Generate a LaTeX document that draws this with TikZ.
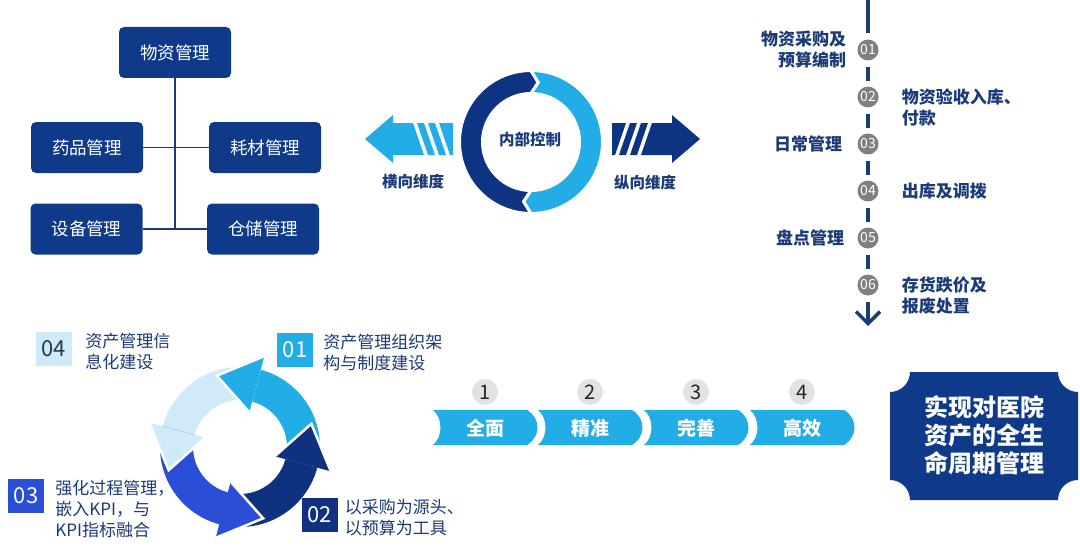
\documentclass[tikz,border=0pt]{standalone}
\usepackage{fontspec}
\setmainfont{Noto Sans CJK SC}
\usetikzlibrary{positioning,arrows.meta}

\definecolor{navy}{HTML}{0F3A8A}
\definecolor{ringdark}{HTML}{0D3483}
\definecolor{sky}{HTML}{22ADE6}
\definecolor{txtblue}{HTML}{1B3A78}
\definecolor{pale}{HTML}{CFEAF8}
\definecolor{royal}{HTML}{2A4ED6}
\definecolor{deepnavy}{HTML}{10317F}
\definecolor{tlgrey}{HTML}{808080}
\definecolor{numgrey}{HTML}{E2E2E2}
\definecolor{numdark}{HTML}{2D3A45}

\tikzset{
  orgbox/.style={fill=navy, rounded corners=5pt, text=white, minimum width=112pt,
    minimum height=51pt, inner sep=0pt, font=\fontsize{17.5}{21}\selectfont},
  orgline/.style={draw=txtblue, line width=1.5pt},
  tlcirc/.style={circle, fill=tlgrey, text=white, minimum size=21pt, inner sep=0pt,
    font=\fontsize{14}{14}\selectfont},
  tlline/.style={draw=txtblue, line width=3.5pt},
  tlleft/.style={align=right, inner sep=0pt, text=txtblue, font=\fontsize{17}{21}\selectfont\bfseries},
  tlright/.style={align=left, inner sep=0pt, text=txtblue, font=\fontsize{17}{21}\selectfont\bfseries},
  numbox/.style={minimum width=36pt, minimum height=34pt, inner sep=0pt, text=white,
    font=\fontsize{22}{22}\selectfont},
  cyclabel/.style={align=left, inner sep=0pt, text=txtblue, font=\fontsize{17}{21}\selectfont},
  numcirc/.style={circle, fill=numgrey, minimum size=26pt, inner sep=0pt, text=black!85,
    font=\fontsize{20}{20}\selectfont},
  bandtext/.style={text=white, inner sep=0pt, font=\fontsize{19}{19}\selectfont\bfseries},
  dimtext/.style={text=txtblue, inner sep=0pt, font=\fontsize{15.5}{18}\selectfont\bfseries}
}

\begin{document}
\begin{tikzpicture}[x=1pt,y=-1pt]
\useasboundingbox (0,0) rectangle (1080,551);

% org chart
\node[orgbox] (wz) at (175,52.5) {物资管理};
\node[orgbox] (yp) at (87,147.5) {药品管理};
\node[orgbox] (hc) at (265,147.5) {耗材管理};
\node[orgbox] (sb) at (86.5,229) {设备管理};
\node[orgbox] (cc) at (263,229) {仓储管理};
\draw[orgline] (wz.south) -- (wz.south |- sb.east);
\draw[orgline] (yp.east) -- (hc.west);
\draw[orgline] (sb.east) -- (cc.west);

% internal control ring
\begin{scope}[shift={(531,142)}, yscale=-1]
\fill[ringdark, draw=white, line width=3pt] (270:71.5) arc[start angle=270, end angle=90, radius=71.5]
  -- (83:60) -- (90:48.5) arc[start angle=90, end angle=270, radius=48.5] -- (263:60) -- cycle;
\fill[sky, draw=white, line width=3pt] (90:71.5) arc[start angle=90, end angle=-90, radius=71.5]
  -- (-97:60) -- (-90:48.5) arc[start angle=-90, end angle=90, radius=48.5] -- (83:60) -- cycle;
\end{scope}
\node[dimtext] (nbkz) at (530,140) {内部控制};

% horizontal dimension arrow
\fill[sky] (365,139) -- (393,115) -- (393,123) -- (413,123) -- (424,155) -- (393,155) -- (393,163) -- cycle;
\foreach \s in {417,428}
  \fill[sky] (\s,123) -- ++(7,0) -- ++(11,32) -- ++(-7,0) -- cycle;
\fill[sky] (439,123) -- (453,123) -- (453,155) -- (450,155) -- cycle;
\node[dimtext] (hxwd) at (413,182) {横向维度};

% vertical dimension arrow
\begin{scope}[shift={(1065,0)}, xscale=-1]
\fill[ringdark] (365,139) -- (393,115) -- (393,123) -- (413,123) -- (424,155) -- (393,155) -- (393,163) -- cycle;
\foreach \s in {417,428}
  \fill[ringdark] (\s,123) -- ++(7,0) -- ++(11,32) -- ++(-7,0) -- cycle;
\fill[ringdark] (439,123) -- (453,123) -- (453,155) -- (450,155) -- cycle;
\end{scope}
\node[dimtext] (zxwd) at (645,183) {纵向维度};

% timeline
\foreach \i in {1,...,6}
  \node[tlcirc] (t\i) at (868,{50+47*(\i-1)}) {0\i};
\coordinate (tltop) at (868,0);
\coordinate (tlend) at (868,326);
\draw[tlline, shorten >=6pt] (tltop) -- (t1);
\foreach \i/\j in {1/2,2/3,3/4,4/5,5/6}
  \draw[tlline, shorten <=6pt, shorten >=5pt] (t\i) -- (t\j);
\draw[tlline, shorten <=6pt, -{Straight Barb[length=12pt,width=24pt]}] (t6) -- (tlend);

\node[tlleft, left=11pt of t1] (l1) {物资采购及\\预算编制};
\node[tlright, right=23pt of t2, yshift=-10.5pt] (l2) {物资验收入库、\\付款};
\node[tlleft, left=15pt of t3] (l3) {日常管理};
\node[tlright, right=23pt of t4] (l4) {出库及调拨};
\node[tlleft, left=13pt of t5] (l5) {盘点管理};
\node[tlright, right=23pt of t6, yshift=-10.5pt] (l6) {存货跌价及\\报废处置};

% cycle arrows
\begin{scope}[shift={(240,447)}, yscale=-1]
\foreach \a/\c in {18/sky,108/pale,198/royal,288/deepnavy}
  \fill[\c] ({\a-33}:80) arc[start angle=\a-33, end angle=\a+57, radius=80]
    -- ({\a+57}:47) arc[start angle=\a+57, end angle=\a-33, radius=47] -- cycle;
\foreach \a/\c in {18/sky,108/pale,198/royal,288/deepnavy}{
  \fill[\c] ({\a+57}:36) -- ({\a+57}:94) -- ({\a+90}:75) -- cycle;
  \draw[white, line width=2.5pt] ({\a+57}:36) -- ({\a+90}:75) -- ({\a+57}:94);
}
\end{scope}

\node[numbox, fill=pale, text=numdark] (c04) at (54,349) {04};
\node[numbox, fill=sky] (c01) at (295,349.5) {01};
\node[numbox, fill=royal] (c03) at (26,496) {03};
\node[numbox, fill=deepnavy] (c02) at (319.5,515) {02};
\node[cyclabel, right=13pt of c04, yshift=-3pt] (d04) {资产管理信\\息化建设};
\node[cyclabel, right=10pt of c01, yshift=-3pt] (d01) {资产管理组织架\\构与制度建设};
\node[cyclabel, right=11pt of c03, yshift=-13pt] (d03) {强化过程管理，\\嵌入KPI，与\\KPI指标融合};
\node[cyclabel, right=7pt of c02, yshift=-3pt] (d02) {以采购为源头、\\以预算为工具};

% four goals
\foreach \i/\l/\t in {1/433/全面,2/538/精准,3/644/完善,4/750/高效}{
  \fill[sky] (\l,410) -- (\l+94,410) .. controls (\l+108,418) and (\l+108,437) .. (\l+94,445)
    -- (\l,445) .. controls (\l+10,437) and (\l+10,418) .. (\l,410) -- cycle;
  \node[bandtext] (band\i) at (\l+52,428) {\t};
  \node[numcirc] (num\i) at (\l+52,392) {\i};
}

% goal box
\fill[navy] (910,372) -- (1058,372) .. controls (1058,383.05) and (1066.95,392) .. (1078,392)
  -- (1078,480) .. controls (1066.95,480) and (1058,488.95) .. (1058,500)
  -- (910,500) .. controls (910,488.95) and (901.05,480) .. (890,480)
  -- (890,392) .. controls (901.05,392) and (910,383.05) .. (910,372) -- cycle;
\node[align=center, text=white, inner sep=0pt, font=\fontsize{24}{28}\selectfont\bfseries] (goal)
  at (984,435) {实现对医院\\资产的全生\\命周期管理};

\end{tikzpicture}
\end{document}
